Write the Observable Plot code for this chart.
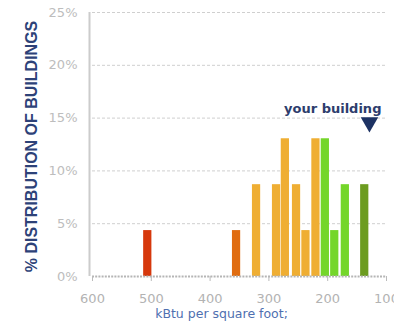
<!DOCTYPE html>
<html>
<head>
<meta charset="utf-8">
<script src="https://cdn.jsdelivr.net/npm/d3@7"></script>
<script src="https://cdn.jsdelivr.net/npm/@observablehq/plot@0.6"></script>
<style>
  html, body { margin: 0; padding: 0; background: #fff; }
</style>
</head>
<body>
<div id="chart"></div>
<script>
// Bin centers (kBtu per square foot) and share of buildings
const binCenters = [506, 355, 321, 287, 272, 253, 237, 220, 204, 188, 170, 137];
const shares = [1/23, 1/23, 2/23, 2/23, 3/23, 2/23, 1/23, 3/23, 3/23, 1/23, 2/23, 2/23];
const binColors = ["#d6380c", "#e06c10", "#efae33", "#efae33", "#efae33", "#efae33", "#efae33", "#efae33",
                   "#74d62a", "#74d62a", "#74d62a", "#6c9c20"];
const xTicks = [600, 500, 400, 300, 200, 100];
const yTicks = [0, 0.05, 0.10, 0.15, 0.20, 0.25];
const yourBuilding = 129;
const yourBuildingLabel = "your building";
const xLabel = "kBtu per square foot;";
const yLabel = "% DISTRIBUTION OF BUILDINGS";

const bins = binCenters.map((c, i) => ({c, share: shares[i], color: binColors[i]}));
const halfWidth = 7;

const chart = Plot.plot({
  width: 394,
  height: 327,
  marginLeft: 92,
  marginRight: 8,
  marginTop: 12,
  marginBottom: 51,
  style: {fontFamily: "DejaVu Sans, Verdana, sans-serif", background: "#fff"},
  x: {domain: [600, 100], axis: null},
  y: {domain: [0, 0.25], axis: null},
  marks: [
    Plot.ruleY(yTicks.slice(1), {stroke: "#cfcfcf", strokeDasharray: "3,2", strokeWidth: 1}),
    Plot.ruleX([600], {dx: -3, stroke: "#cccccc", strokeWidth: 2}),
    Plot.rectY(bins, {x1: d => d.c + halfWidth, x2: d => d.c - halfWidth, y: "share", fill: "color"}),
    Plot.ruleY([0], {stroke: "#b5b5b5", strokeWidth: 2, strokeDasharray: "2,1.2"}),
    Plot.axisX({ticks: xTicks, tickFormat: d => d, tickSize: 5, tickPadding: 12, fontSize: 13,
                stroke: "#bbbbbb", color: "#b3b3b3", label: null}),
    Plot.axisY({ticks: yTicks, tickFormat: d => Math.round(d * 100) + "%", tickSize: 0, tickPadding: 15,
                fontSize: 13, color: "#bdbdbd", label: null}),
    Plot.text([xLabel], {text: d => d, frameAnchor: "bottom", dx: -18, dy: 41, fill: "#4f6fb0", fontSize: 12.5}),
    Plot.text([yLabel], {text: d => d, frameAnchor: "left", textAnchor: "middle", rotate: -90, dx: -61, dy: 2,
                         fill: "#2d4278", fontSize: 16, fontWeight: "bold",
                         fontFamily: "Liberation Sans, Arial, sans-serif"}),
    Plot.dot([yourBuilding], {x: d => d, y: 0.146, symbol: "triangle", rotate: 180, r: 6.5,
                              fill: "#1d3263", stroke: "none"}),
    Plot.text([yourBuilding], {x: d => d, y: 0.146, text: () => yourBuildingLabel, textAnchor: "end",
                               dx: 12, dy: -13, fill: "#2d3d6d", fontSize: 13, fontWeight: "bold"})
  ]
});
document.getElementById("chart").appendChild(chart);
</script>
</body>
</html>
